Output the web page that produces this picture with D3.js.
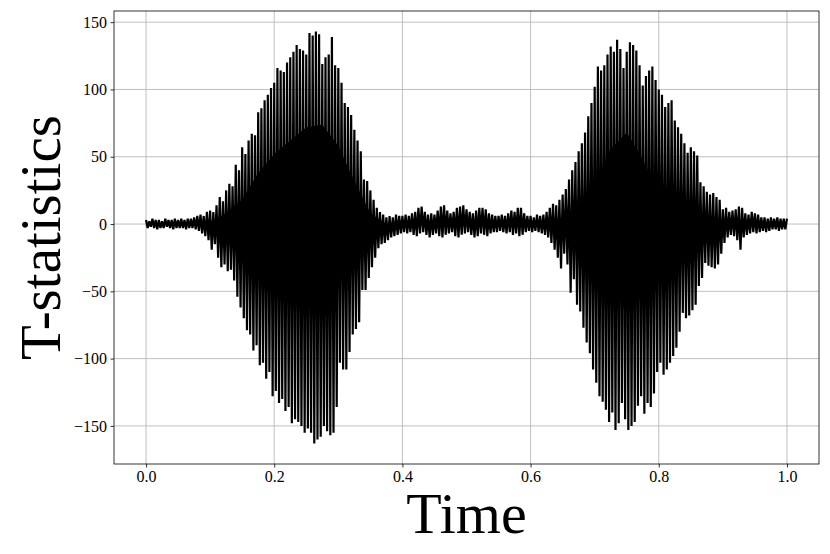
<html>
<head>
<meta charset="utf-8">
<script src="https://cdn.jsdelivr.net/npm/d3@7"></script>
<style>
body { margin: 0; background: #fff; }
text { font-family: "Liberation Serif", "Times New Roman", serif; fill: #000; }
.grid line { stroke: #b0b0b0; stroke-width: 0.8px; }
.axis line { stroke: #000; stroke-width: 0.8px; }
</style>
</head>
<body>
<script>

// sampled every 0.005 in time: positive peaks at t, negative troughs at t + 0.0025
var step = 0.005;

var peakHigh = [
  3, 2, 4, 3, 3, 2, 4, 3, 3, 4,
  3, 4, 3, 4, 4, 5, 6, 7, 6, 9,
  10, 9, 14, 20, 17, 25, 30, 28, 44, 40,
  57, 52, 62, 67, 66, 83, 86, 92, 96, 101,
  105, 116, 114, 113, 120, 124, 128, 133, 130, 129,
  126, 142, 140, 143, 141, 119, 124, 126, 139, 118,
  116, 105, 90, 87, 81, 70, 62, 54, 33, 32,
  25, 18, 12, 9, 7, 5, 6, 5, 7, 6,
  6, 7, 6, 8, 9, 12, 13, 9, 7, 8,
  7, 10, 13, 14, 10, 8, 9, 12, 13, 14,
  11, 9, 8, 10, 12, 12, 11, 8, 7, 6,
  6, 7, 6, 8, 10, 9, 12, 12, 8, 6,
  6, 5, 7, 6, 7, 9, 12, 15, 14, 18,
  22, 26, 33, 40, 46, 54, 60, 68, 80, 90,
  102, 117, 114, 118, 126, 132, 128, 137, 130, 116,
  128, 135, 133, 129, 118, 103, 110, 114, 117, 107,
  100, 96, 87, 90, 92, 77, 72, 67, 60, 53,
  57, 54, 51, 31, 28, 24, 22, 23, 20, 18,
  11, 12, 9, 10, 11, 13, 12, 8, 7, 9,
  8, 7, 5, 5, 4, 5, 4, 5, 4, 4,
  4
];

var peakLow = [
  -3, -2, -3, -4, -3, -3, -2, -3, -4, -3,
  -3, -3, -4, -3, -3, -4, -5, -7, -9, -12,
  -19, -15, -25, -32, -30, -35, -34, -42, -54, -62,
  -70, -79, -82, -94, -90, -105, -103, -115, -110, -128,
  -124, -133, -130, -139, -136, -148, -145, -147, -150, -155,
  -152, -155, -163, -160, -158, -150, -154, -157, -155, -136,
  -103, -108, -108, -95, -82, -78, -73, -49, -49, -40,
  -32, -25, -18, -15, -14, -12, -10, -9, -8, -7,
  -6, -7, -6, -8, -9, -7, -6, -8, -10, -8,
  -7, -9, -10, -8, -7, -6, -9, -10, -8, -7,
  -6, -8, -10, -9, -7, -8, -9, -7, -6, -6,
  -5, -6, -7, -6, -8, -7, -9, -8, -6, -5,
  -6, -5, -6, -7, -8, -10, -14, -19, -25, -33,
  -22, -30, -51, -41, -60, -65, -77, -88, -96, -108,
  -118, -128, -132, -138, -147, -140, -153, -148, -133, -145,
  -153, -150, -147, -135, -128, -141, -133, -136, -126, -110,
  -103, -112, -108, -103, -98, -92, -80, -66, -70, -68,
  -64, -60, -46, -40, -29, -31, -32, -33, -30, -22,
  -14, -10, -8, -9, -12, -19, -10, -8, -7, -6,
  -7, -6, -5, -6, -5, -4, -4, -5, -4, -4
];

// dense inner band where the trace is solid black, every 0.025
var coreStep = 0.025;
var coreHigh = [0, 0, 0, 0, 2, 8, 18, 38, 52, 62, 72, 74, 58, 32, 8, 0,
  0, 0, 0, 0, 0, 0, 0, 0, 0, 0,
  5, 12, 32, 56, 68, 48, 24, 9, 3,
  0, 0, 0, 0, 0, 0];
var coreLow = [0, 0, 0, 0, -2, -5, -10, -18, -26, -32, -36, -35, -26, -13, -4, 0,
  0, 0, 0, 0, 0, 0, 0, 0, 0, 0,
  -3, -8, -18, -28, -33, -30, -20, -9, -3,
  0, 0, 0, 0, 0, 0];

var xTicks = [0, 0.2, 0.4, 0.6, 0.8, 1.0];
var yTicks = [-150, -100, -50, 0, 50, 100, 150];

var W = 830, H = 554,
    x0 = 114, x1 = 819, y0 = 11, y1 = 464;

var trace = [];
peakHigh.forEach(function(v, i) {
  trace.push([i * step, v]);
  if (i < peakLow.length) trace.push([i * step + step / 2, peakLow[i]]);
});

var lo = d3.min(peakLow), hi = d3.max(peakHigh), pad = (hi - lo) * 0.05;

var x = d3.scaleLinear().domain([-0.05, 1.05]).range([x0, x1]);
var y = d3.scaleLinear().domain([lo - pad, hi + pad]).range([y1, y0]);

var svg = d3.select("body").append("svg")
    .attr("width", W)
    .attr("height", H);

var grid = svg.append("g").attr("class", "grid");
grid.selectAll("line.gx").data(xTicks).enter().append("line")
    .attr("x1", function(d) { return x(d); })
    .attr("x2", function(d) { return x(d); })
    .attr("y1", y0).attr("y2", y1);
grid.selectAll("line.gy").data(yTicks).enter().append("line")
    .attr("y1", function(d) { return y(d); })
    .attr("y2", function(d) { return y(d); })
    .attr("x1", x0).attr("x2", x1);

svg.append("path")
    .datum(coreHigh)
    .attr("fill", "#000")
    .attr("d", d3.area()
      .x(function(d, i) { return x(i * coreStep); })
      .y0(function(d, i) { return y(coreLow[i]); })
      .y1(function(d) { return y(d); }));

svg.append("path")
    .datum(trace)
    .attr("fill", "none")
    .attr("stroke", "#000")
    .attr("stroke-width", 2.2)
    .attr("stroke-linejoin", "bevel")
    .attr("d", d3.line()
      .x(function(d) { return x(d[0]); })
      .y(function(d) { return y(d[1]); }));

svg.append("rect")
    .attr("x", x0).attr("y", y0)
    .attr("width", x1 - x0).attr("height", y1 - y0)
    .attr("fill", "none")
    .attr("stroke", "#000")
    .attr("stroke-width", 0.8);

svg.append("g")
    .attr("class", "axis")
    .attr("transform", "translate(0," + y1 + ")")
    .call(d3.axisBottom(x).tickValues(xTicks).tickFormat(d3.format(".1f"))
      .tickSize(3.5).tickPadding(3.5));
svg.append("g")
    .attr("class", "axis")
    .attr("transform", "translate(" + x0 + ",0)")
    .call(d3.axisLeft(y).tickValues(yTicks).tickSize(3.5).tickPadding(3.5));

svg.selectAll(".axis .domain").remove();
svg.selectAll(".axis text")
    .attr("font-size", 16)
    .attr("font-family", "Liberation Serif, serif")
    .style("fill", "#000");

svg.append("text")
    .attr("x", (x0 + x1) / 2)
    .attr("y", 533)
    .attr("text-anchor", "middle")
    .attr("font-size", 58)
    .text("Time");

svg.append("text")
    .attr("transform", "translate(60," + (y0 + y1) / 2 + ") rotate(-90)")
    .attr("text-anchor", "middle")
    .attr("font-size", 57)
    .text("T-statistics");

</script>
</body>
</html>
